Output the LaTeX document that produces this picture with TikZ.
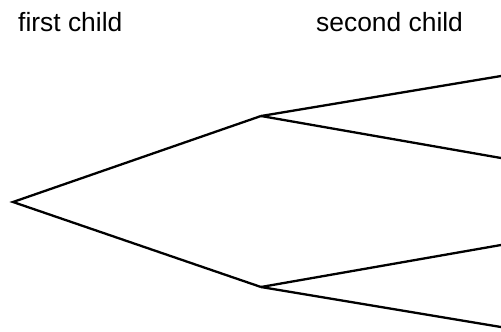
\documentclass[tikz,border=0pt]{standalone}
\usepackage{fontspec}
\setmainfont{Liberation Sans}
\usepackage{tikz}
\usetikzlibrary{positioning}

\begin{document}
\begin{tikzpicture}[x=1pt, y=-1pt, branch/.style={line width=2.3pt, line join=miter}, lbl/.style={anchor=base west, inner sep=0pt, font=\fontsize{26.4}{30}\selectfont}]
\useasboundingbox (0, 0) rectangle (501, 332);
\node[lbl] (first) at (18, 31) {first child};
\node[lbl] (second) at (316, 31) {second child};
\coordinate (root) at (13, 202);
\coordinate (up) at (261, 116);
\coordinate (down) at (261, 287);
\coordinate (upa) at (501, 76);
\coordinate (upb) at (501, 158);
\coordinate (downa) at (501, 245);
\coordinate (downb) at (501, 327);
\draw[branch] (up) -- (root) -- (down);
\foreach \p/\c in {up/upa, up/upb, down/downa, down/downb}
    \draw[branch] (\p) -- (\c);
\end{tikzpicture}
\end{document}
